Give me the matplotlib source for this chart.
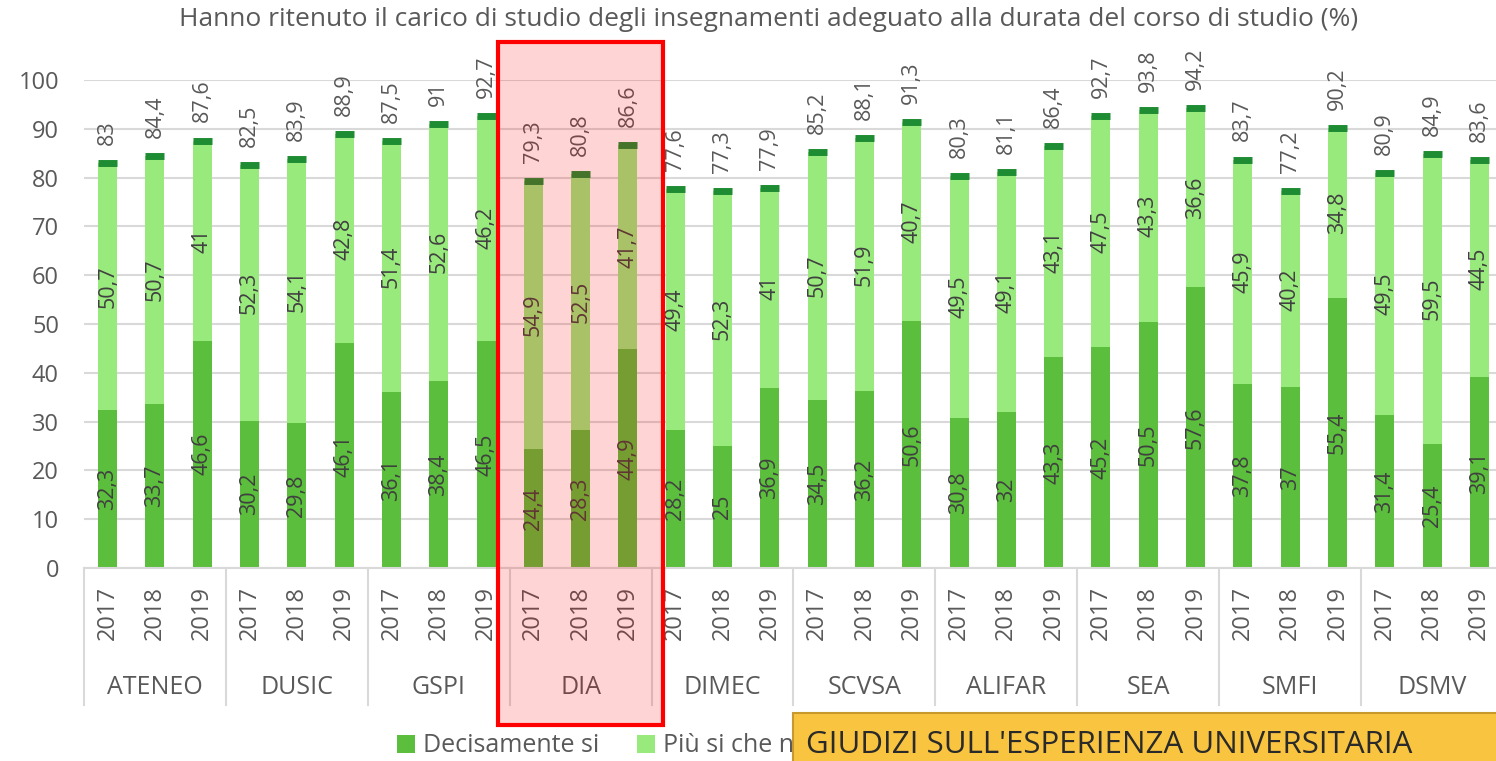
import numpy as np
import matplotlib.pyplot as plt
from matplotlib.patches import Rectangle
from matplotlib.transforms import blended_transform_factory

plt.rcParams['font.family'] = ['Open Sans', 'DejaVu Sans']

groups = ["ATENEO", "DUSIC", "GSPI", "DIA", "DIMEC", "SCVSA", "ALIFAR", "SEA", "SMFI", "DSMV"]
years = ["2017", "2018", "2019"]

decisamente = [32.3, 33.7, 46.6, 30.2, 29.8, 46.1, 36.1, 38.4, 46.5,
               24.4, 28.3, 44.9, 28.2, 25.0, 36.9, 34.5, 36.2, 50.6,
               30.8, 32.0, 43.3, 45.2, 50.5, 57.6, 37.8, 37.0, 55.4,
               31.4, 25.4, 39.1]
piu_si = [50.7, 50.7, 41.0, 52.3, 54.1, 42.8, 51.4, 52.6, 46.2,
          54.9, 52.5, 41.7, 49.4, 52.3, 41.0, 50.7, 51.9, 40.7,
          49.5, 49.1, 43.1, 47.5, 43.3, 36.6, 45.9, 40.2, 34.8,
          49.5, 59.5, 44.5]
totale = [83.0, 84.4, 87.6, 82.5, 83.9, 88.9, 87.5, 91.0, 92.7,
          79.3, 80.8, 86.6, 77.6, 77.3, 77.9, 85.2, 88.1, 91.3,
          80.3, 81.1, 86.4, 92.7, 93.8, 94.2, 83.7, 77.2, 90.2,
          80.9, 84.9, 83.6]

c_dark = "#5BBE3C"
c_light = "#99EA7D"
c_cap = "#1E8C32"
c_text = "#595959"


def fmt(v):
    s = f"{v:.1f}".rstrip("0").rstrip(".")
    return s.replace(".", ",")


fig = plt.figure(figsize=(14.96, 7.61), dpi=100)
ax = fig.add_axes([84 / 1496, 1 - 568 / 761, 1419 / 1496, 488 / 761])

x = np.arange(len(decisamente))
w = 0.4
dec = np.array(decisamente)
piu = np.array(piu_si)
tot = np.array(totale)

b1 = ax.bar(x, dec, w, color=c_dark, zorder=2, label="Decisamente si")
b2 = ax.bar(x, piu, w, bottom=dec, color=c_light, zorder=2, label="Più si che no")
ax.hlines(tot, x - w / 2, x + w / 2, colors=c_cap, lw=5, zorder=3)

for i in range(len(x)):
    ax.text(x[i], dec[i] / 2, fmt(dec[i]), rotation=90, ha="center", va="center",
            fontsize=15.5, color="#404040", zorder=4)
    ax.text(x[i], dec[i] + piu[i] / 2, fmt(piu[i]), rotation=90, ha="center", va="center",
            fontsize=15.5, color="#404040", zorder=4)
    ax.annotate(fmt(tot[i]), (x[i], tot[i]), xytext=(0, 13), textcoords="offset points",
                rotation=90, ha="center", va="bottom", fontsize=15.5, color=c_text, zorder=4)

ax.set_ylim(0, 100)
ax.set_xlim(-0.5, len(x) - 0.5)
ax.set_yticks(np.arange(0, 101, 10))
ax.yaxis.grid(True, color="#D9D9D9", lw=1.5, zorder=0)
ax.set_axisbelow(True)
for s in ["top", "right", "left"]:
    ax.spines[s].set_visible(False)
ax.spines["bottom"].set_color("#D9D9D9")
ax.spines["bottom"].set_linewidth(1.5)
ax.tick_params(axis="y", length=0, pad=18, labelsize=17, labelcolor=c_text)
ax.set_xticks(x)
ax.set_xticklabels(years * len(groups), rotation=90, fontsize=17, color=c_text)
ax.tick_params(axis="x", length=0, pad=13)

trans = blended_transform_factory(ax.transData, ax.transAxes)
for g in range(len(groups) + 1):
    ax.plot([g * 3 - 0.5] * 2, [0, -0.28], color="#D9D9D9", lw=1.5,
            transform=trans, clip_on=False)
for g, name in enumerate(groups):
    ax.text(g * 3 + 1, -0.245, name, transform=trans, ha="center", va="center",
            fontsize=18, color=c_text)

fig.text(0.514, 0.975, "Hanno ritenuto il carico di studio degli insegnamenti adeguato alla durata del corso di studio (%)",
         ha="center", va="center", fontsize=19, color=c_text)

fig.legend([b1, b2], ["Decisamente si", "Più si che no"], loc="center left",
           bbox_to_anchor=(384 / 1496, 1 - 746 / 761), ncol=2, frameon=False,
           fontsize=18, handlelength=0.75, handleheight=0.75, handletextpad=0.3,
           columnspacing=1.5, labelcolor=c_text, borderpad=0)

# DIA highlight
trans_fig = blended_transform_factory(ax.transData, fig.transFigure)
fig.patches.append(Rectangle((8.5 - 0.25, 1 - 725 / 761), 3.5, 683 / 761,
                             transform=trans_fig, facecolor=(1, 0, 0, 0.17),
                             edgecolor="red", lw=3, zorder=10))

# yellow banner
fig.patches.append(Rectangle((793 / 1496, -0.02), 0.5, 0.02 + 48 / 761,
                             transform=fig.transFigure, facecolor="#F9C440",
                             edgecolor="#C89A2E", lw=1.5, zorder=11))
fig.text(806 / 1496, 1 - 745 / 761, "GIUDIZI SULL'ESPERIENZA UNIVERSITARIA",
         ha="left", va="center", fontsize=22.5, color="#2A2A2A", zorder=12)

fig.savefig("out.png", dpi=100)
